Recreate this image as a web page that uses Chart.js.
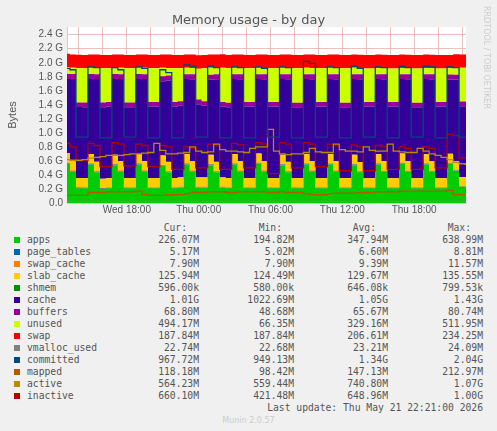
<!DOCTYPE html>
<html>
<head>
<meta charset="utf-8">
<script src="https://cdn.jsdelivr.net/npm/chart.js@4"></script>
<style>
  body { margin: 0; background: #f0f0f0; width: 497px; height: 431px; overflow: hidden; position: relative; font-family: "DejaVu Sans", sans-serif; }
  #title { position: absolute; top: 12px; left: 0; width: 497px; text-align: center; font-size: 13px; color: #555; }
  #side { position: absolute; left: 482px; top: 6px; writing-mode: vertical-rl; font-size: 8px; color: #ccc; }
  #wrap { position: absolute; left: 0; top: 0; width: 497px; height: 215px; }
  #legend { position: absolute; left: 0; top: 222px; width: 497px; font-family: "DejaVu Sans Mono", monospace; font-size: 9.7px; color: #555; }
  .row { position: absolute; height: 12px; left: 0; width: 497px; }
  .sq { position: absolute; left: 14px; top: 3px; width: 6px; height: 6px; }
  .nm { position: absolute; left: 27px; }
  .c { position: absolute; text-align: right; width: 100px; }
  #upd { position: absolute; top: 180px; right: 14px; }
  #munin { position: absolute; top: 194px; left: 0; width: 497px; text-align: center; color: #ccc; font-family: "DejaVu Sans", sans-serif; font-size: 8px; }
</style>
</head>
<body>
<div id="wrap"><canvas id="chart" width="497" height="215"></canvas></div>
<div id="title">Memory usage - by day</div>
<div id="side">RRDTOOL / TOBI OETIKER</div>
<div id="legend"></div>
<script>
// hours since Wed 00:00, one point every 30 minutes
const startHour = 13;
const hours = [];
for (let i = 0; i < 68; i++) hours.push(startHour + i * 0.5);

const tickLabels = { 18: 'Wed 18:00', 24: 'Thu 00:00', 30: 'Thu 06:00', 36: 'Thu 12:00', 42: 'Thu 18:00' };

// values in G
const apps = [.56,.45,.21,.21, .55,.44,.20,.21, .54,.45,.21,.21, .55,.45,.21,.21, .53,.44,.21,.22, .55,.45,.22,.22, .54,.44,.22,.21, .55,.45,.21,.21, .56,.45,.21,.21, .54,.44,.21,.21, .55,.45,.21,.21, .55,.45,.21,.21, .54,.44,.21,.21, .55,.45,.21,.21, .56,.45,.21,.21, .55,.45,.21,.21, .56,.46,.23,.23];
const pageTables = [.008,.007,.006,.006, .008,.007,.006,.006, .008,.007,.006,.006, .008,.007,.006,.006, .008,.007,.006,.006, .008,.007,.006,.006, .008,.007,.006,.006, .008,.007,.006,.006, .008,.007,.006,.006, .008,.007,.006,.006, .008,.007,.006,.006, .008,.007,.006,.006, .008,.007,.006,.006, .008,.007,.006,.006, .008,.007,.006,.006, .008,.007,.006,.006, .008,.006,.005,.005];
const swapCache = [.011,.011,.011,.010, .010,.010,.010,.010, .010,.010,.010,.010, .010,.010,.010,.010, .009,.009,.009,.009, .009,.009,.009,.009, .009,.009,.009,.009, .009,.009,.009,.009, .009,.009,.009,.009, .009,.009,.009,.009, .009,.009,.009,.009, .009,.009,.009,.009, .009,.008,.008,.008, .008,.008,.008,.008, .008,.008,.008,.008, .008,.008,.008,.008, .008,.008,.008,.008];
const slabCache = [.13,.13,.13,.13, .13,.13,.13,.13, .13,.13,.13,.13, .13,.13,.13,.13, .13,.13,.13,.13, .13,.13,.13,.13, .13,.13,.13,.13, .13,.13,.13,.13, .13,.13,.13,.13, .13,.13,.13,.13, .13,.13,.13,.13, .13,.13,.13,.13, .13,.13,.13,.13, .13,.13,.13,.13, .13,.13,.13,.13, .13,.13,.13,.13, .126,.126,.126,.126];
const shmem = [.0007,.0006,.0006,.0006, .0007,.0006,.0006,.0006, .0007,.0006,.0006,.0006, .0007,.0006,.0006,.0006, .0007,.0006,.0006,.0006, .0007,.0006,.0006,.0006, .0007,.0006,.0006,.0006, .0007,.0006,.0006,.0006, .0007,.0006,.0006,.0006, .0007,.0006,.0006,.0006, .0007,.0006,.0006,.0006, .0007,.0006,.0006,.0006, .0007,.0006,.0006,.0006, .0007,.0006,.0006,.0006, .0007,.0006,.0006,.0006, .0007,.0006,.0006,.0006, .0007,.0006,.0006,.0006];
const cache = [1.06,1.17,1.01,1.01, 1.07,1.18,1.02,1.02, 1.08,1.17,1.01,1.01, 1.07,1.17,1.02,1.02, 1.06,1.16,1.02,1.02, 1.07,1.17,1.04,1.02, 1.07,1.18,1.01,1.01, 1.07,1.17,1.02,1.02, 1.06,1.17,1.02,1.02, 1.08,1.18,1.01,1.01, 1.07,1.17,1.02,1.02, 1.07,1.17,1.01,1.01, 1.08,1.18,1.02,1.02, 1.07,1.17,1.02,1.02, 1.06,1.17,1.01,1.01, 1.07,1.17,1.02,1.02, 1.06,1.16,1.01,1.01];
const buffers = [.07,.07,.065,.065, .07,.07,.065,.065, .07,.07,.065,.065, .07,.07,.065,.065, .07,.07,.065,.065, .07,.07,.07,.065, .07,.07,.065,.065, .07,.07,.065,.065, .07,.07,.065,.065, .07,.07,.065,.065, .07,.07,.065,.065, .07,.07,.065,.065, .07,.07,.065,.065, .07,.07,.065,.065, .07,.07,.065,.065, .07,.07,.065,.065, .069,.069,.069,.069];
const unused = [.10,.09,.49,.49, .09,.09,.49,.48, .09,.09,.49,.49, .09,.09,.48,.48, .12,.11,.48,.47, .09,.09,.44,.47, .10,.09,.49,.49, .09,.09,.48,.48, .09,.09,.48,.48, .09,.09,.49,.49, .09,.09,.48,.48, .09,.09,.49,.49, .09,.09,.48,.48, .09,.09,.48,.48, .09,.09,.49,.49, .09,.09,.48,.48, .09,.10,.48,.48];
const swap = [.19,.19,.19,.19, .19,.19,.19,.19, .19,.19,.19,.19, .19,.19,.19,.19, .19,.19,.19,.19, .19,.19,.19,.19, .19,.19,.19,.19, .19,.19,.19,.19, .19,.19,.19,.19, .19,.19,.19,.19, .19,.19,.19,.19, .19,.19,.19,.19, .19,.19,.19,.19, .19,.19,.19,.19, .19,.19,.19,.19, .19,.19,.19,.19, .19,.19,.19,.19];
const vmallocUsed = [.023,.023,.023,.023, .023,.023,.023,.023, .023,.023,.023,.023, .023,.023,.023,.023, .023,.023,.023,.023, .023,.023,.023,.023, .023,.023,.023,.023, .023,.023,.023,.023, .023,.023,.023,.023, .023,.023,.023,.023, .023,.023,.023,.023, .023,.023,.023,.023, .023,.023,.023,.023, .023,.023,.023,.023, .023,.023,.023,.023, .023,.023,.023,.023, .023,.023,.023,.023];
const committed = [1.92,1.90,.94,.94, 1.94,1.93,.93,.93, 1.93,1.90,.94,.94, 1.94,1.92,.93,.93, 1.90,1.86,.93,.93, 1.97,1.95,.94,.94, 1.95,1.93,.93,.93, 1.94,1.93,.93,.93, 1.94,1.92,.94,.94, 1.94,1.93,.93,.93, 2.02,1.99,.94,.94, 1.94,1.93,.93,.93, 1.95,1.92,.94,.94, 1.94,1.93,.93,.93, 1.95,1.93,.94,.94, 1.95,1.94,.93,.93, 1.94,1.93,.94,.94];
const mapped = [.11,.11,.11,.11, .15,.15,.15,.16, .16,.16,.16,.16, .17,.12,.11,.11, .11,.12,.12,.12, .13,.15,.15,.15, .16,.16,.16,.15, .15,.16,.16,.16, .16,.16,.15,.15, .16,.15,.15,.15, .13,.12,.12,.12, .13,.14,.14,.14, .14,.15,.15,.15, .16,.16,.16,.16, .17,.17,.17,.17, .17,.17,.17,.17, .18,.12,.12,.12];
const active = [.62,.61,.61,.62,.64,.65,.66,.68, .68,.68,.69,.70,.70,.71,.72,.85, .75,.70,.70,.71,.72,.80,.74,.72, .73,.84,.76,.74,.74,.73,.72,.78, .80,.80,1.05,.74,.70,.69,.70,.70, .72,.78,.73,.72,.72,.84,.76,.74, .74,.73,.80,.75,.74,.74,.84,.74, .73,.72,.72,.78,.74,.70,.68,.65, .62,.58,.56,.55];
const inactive = [.85,.80,.60,.60, .85,.82,.52,.52, .86,.84,.53,.53, .84,.82,.52,.52, .82,.80,.48,.48, .80,.78,.50,.50, .84,.82,.48,.48, .85,.83,.50,.50, .86,.84,.42,.42, .86,.84,.50,.50, .86,.84,.52,.52, .84,.82,.46,.46, .83,.80,.46,.46, .82,.80,.48,.48, .80,.78,.48,.48, .80,.78,.50,.50, .98,.96,.64,.64];

const stacked = [
  ['apps', apps, '#00CC00'],
  ['page_tables', pageTables, '#0066B3'],
  ['swap_cache', swapCache, '#FF8000'],
  ['slab_cache', slabCache, '#FFCC00'],
  ['shmem', shmem, '#008F00'],
  ['cache', cache, '#330099'],
  ['buffers', buffers, '#990099'],
  ['unused', unused, '#CCFF00'],
  ['swap', swap, '#FF0000']
];
const lines = [
  ['vmalloc_used', vmallocUsed, '#808080'],
  ['committed', committed, '#00487D'],
  ['mapped', mapped, '#B35A00'],
  ['active', active, '#B38F00'],
  ['inactive', inactive, '#B30000']
];

const pts = arr => arr.map((v, i) => ({ x: hours[i], y: v }));
const datasets = [];
stacked.forEach(([name, data, color], k) => {
  datasets.push({
    label: name, data: pts(data), stack: 'mem', backgroundColor: color, borderColor: color,
    borderWidth: 0, fill: k === 0 ? 'origin' : '-1', pointRadius: 0, stepped: 'middle', order: 2
  });
});
lines.forEach(([name, data, color]) => {
  datasets.push({
    label: name, data: pts(data), stack: name, borderColor: color, backgroundColor: color,
    borderWidth: 1.3, fill: false, pointRadius: 0, stepped: 'middle', order: 1
  });
});

new Chart(document.getElementById('chart'), {
  type: 'line',
  data: { datasets },
  options: {
    responsive: false, animation: false,
    layout: { padding: { top: 27, right: 31, left: 4, bottom: 0 } },
    plugins: { legend: { display: false }, tooltip: { enabled: false } },
    scales: {
      x: {
        type: 'linear', min: startHour, max: 46.33,
        afterBuildTicks: s => { s.ticks = [14,16,18,20,22,24,26,28,30,32,34,36,38,40,42,44,46].map(v => ({ value: v })); },
        ticks: { autoSkip: false, maxRotation: 0, color: '#555', font: { size: 10 }, padding: 1,
          callback: v => tickLabels[v] || '' },
        grid: { color: 'rgba(220,150,150,0.6)', borderDash: [1, 2], drawTicks: false },
        border: { color: '#ccc' },
        afterFit: s => { s.height = 12; }
      },
      y: {
        stacked: true, min: 0, max: 2.51,
        afterBuildTicks: s => { s.ticks = [0,.2,.4,.6,.8,1,1.2,1.4,1.6,1.8,2,2.2,2.4].map(v => ({ value: v })); },
        ticks: { autoSkip: false, color: '#555', font: { size: 10 }, padding: 4,
          callback: v => v === 0 ? '0.0' : v.toFixed(1) + ' G' },
        grid: { color: 'rgba(220,150,150,0.6)', borderDash: [1, 2], drawTicks: false },
        border: { color: '#ccc' },
        title: { display: true, text: 'Bytes', color: '#555', font: { size: 11 }, padding: 2 },
        afterFit: s => { s.width = 63; }
      }
    }
  },
  plugins: [{
    id: 'bg',
    beforeDraw: c => {
      const a = c.chartArea, g = c.ctx;
      g.save(); g.fillStyle = '#fff'; g.fillRect(a.left, a.top, a.right - a.left, a.bottom - a.top); g.restore();
    }
  }]
});

// legend table
const stats = [
  ['apps', '#00CC00', '226.07M', '194.82M', '347.94M', '638.99M'],
  ['page_tables', '#0066B3', '5.17M', '5.02M', '6.60M', '8.81M'],
  ['swap_cache', '#FF8000', '7.90M', '7.90M', '9.39M', '11.57M'],
  ['slab_cache', '#FFCC00', '125.94M', '124.49M', '129.67M', '135.55M'],
  ['shmem', '#008F00', '596.00k', '580.00k', '646.08k', '799.53k'],
  ['cache', '#330099', '1.01G', '1022.69M', '1.05G', '1.43G'],
  ['buffers', '#990099', '68.80M', '48.68M', '65.67M', '80.74M'],
  ['unused', '#CCFF00', '494.17M', '66.35M', '329.16M', '511.95M'],
  ['swap', '#FF0000', '187.84M', '187.84M', '206.61M', '234.25M'],
  ['vmalloc_used', '#808080', '22.74M', '22.68M', '23.21M', '24.09M'],
  ['committed', '#00487D', '967.72M', '949.13M', '1.34G', '2.04G'],
  ['mapped', '#B35A00', '118.18M', '98.42M', '147.13M', '212.97M'],
  ['active', '#B38F00', '564.23M', '559.44M', '740.80M', '1.07G'],
  ['inactive', '#B30000', '660.10M', '421.48M', '648.96M', '1.00G']
];
const colRight = [199, 294, 388, 483];
const legend = document.getElementById('legend');
let html = '<div class="row" style="top:0">' + ['Cur:', 'Min:', 'Avg:', 'Max:'].map((h, i) =>
  `<span class="c" style="left:${colRight[i] - 100 - 12}px">${h}</span>`).join('') + '</div>';
stats.forEach((r, k) => {
  html += `<div class="row" style="top:${12 + k * 12}px"><span class="sq" style="background:${r[1]}"></span><span class="nm">${r[0]}</span>` +
    r.slice(2).map((v, i) => `<span class="c" style="left:${colRight[i] - 100}px">${v}</span>`).join('') + '</div>';
});
html += '<div id="upd">Last update: Thu May 21 22:21:00 2026</div><div id="munin">Munin 2.0.57</div>';
legend.innerHTML = html;
</script>
</body>
</html>
